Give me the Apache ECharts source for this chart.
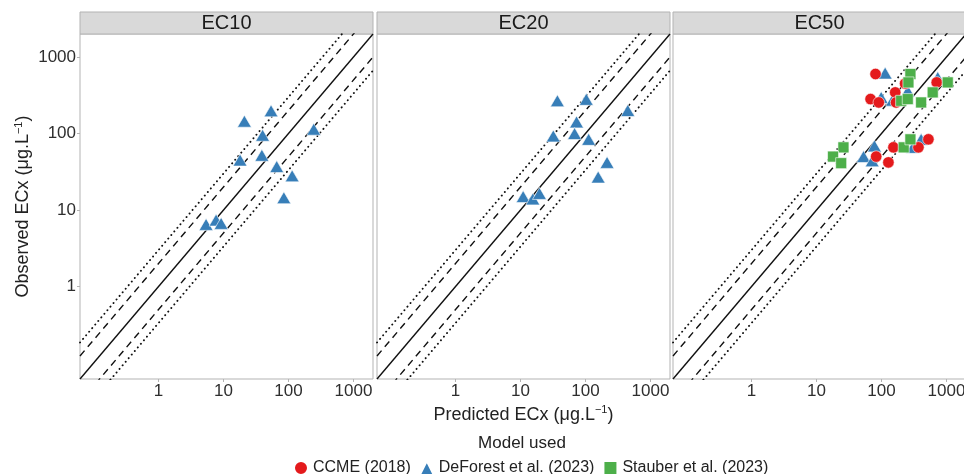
<!DOCTYPE html>
<html>
<head>
<meta charset="utf-8">
<script src="https://cdn.jsdelivr.net/npm/echarts@6/dist/echarts.min.js"></script>
<style>
html, body { margin: 0; padding: 0; background: #fff; }
#chart { width: 964px; height: 474px; }
</style>
</head>
<body>
<div id="chart"></div>
<script>
// facets and axis ticks
var panels = ['EC10', 'EC20', 'EC50'];
var tickValues = [1, 10, 100, 1000];
var axisMin = 0.062, axisMax = 2000;

// EC10 - DeForest et al. (2023)
var ec10Pred = [21, 54, 40, 245, 18, 39, 66, 114, 85, 5.4, 7.7, 9.2];
var ec10Obs  = [145, 198, 95, 114, 45, 52, 37, 28, 14.5, 6.5, 7.4, 6.7];

// EC20 - DeForest et al. (2023)
var ec20Pred = [37, 103, 448, 73, 68, 32, 112, 215, 157, 11, 15.5, 19.6];
var ec20Obs  = [268, 280, 200, 142, 100, 93, 84, 42, 27, 15, 14, 16.5];

// EC50 - three models
var ec50CcmePred = [81, 231, 709, 163, 68, 91, 168, 153, 371, 528, 83, 128];
var ec50CcmeObs  = [600, 450, 466, 345, 282, 255, 255, 66, 66, 84, 50, 42];
var ec50DefPred  = [114, 254, 99, 735, 148, 78, 53, 72, 408, 303];
var ec50DefObs   = [617, 360, 297, 540, 273, 69, 50, 44, 84, 66];
var ec50StaPred  = [279, 260, 1047, 615, 201, 254, 408, 26, 18, 24, 220, 279];
var ec50StaObs   = [600, 466, 466, 345, 268, 282, 255, 66, 50, 41, 66, 84];

// reference lines: 1:1, x2 / x0.5, x3 / x1/3
var lineFactors = [1, 2, 0.5, 3, 1 / 3];
var lineTypes   = ['solid', [7, 5], [7, 5], [0.1, 4.6], [0.1, 4.6]];
var lineWidths  = [1.4, 1.4, 1.4, 1.9, 1.9];

var models = ['CCME (2018)', 'DeForest et al. (2023)', 'Stauber et al. (2023)'];
var modelColors = {'CCME (2018)': '#E41A1C', 'DeForest et al. (2023)': '#377EB8', 'Stauber et al. (2023)': '#4DAF4A'};
var modelSymbols = {'CCME (2018)': 'circle', 'DeForest et al. (2023)': 'triangle', 'Stauber et al. (2023)': 'rect'};
var modelSizes = {'CCME (2018)': 11.5, 'DeForest et al. (2023)': [14, 12], 'Stauber et al. (2023)': 11};

var panelLeft = [80, 377, 673];
var panelWidth = 293, panelTop = 34, panelHeight = 345;

function pairs(xs, ys) {
    return xs.map(function (x, i) { return [x, ys[i]]; });
}

var panelData = [
    [['DeForest et al. (2023)', pairs(ec10Pred, ec10Obs)]],
    [['DeForest et al. (2023)', pairs(ec20Pred, ec20Obs)]],
    [['DeForest et al. (2023)', pairs(ec50DefPred, ec50DefObs)],
     ['CCME (2018)', pairs(ec50CcmePred, ec50CcmeObs)],
     ['Stauber et al. (2023)', pairs(ec50StaPred, ec50StaObs)]]
];

var unitRich = {
    t: {fontSize: 18, color: '#222', fontFamily: 'Liberation Sans'},
    s: {fontSize: 11, color: '#222', fontFamily: 'Liberation Sans', verticalAlign: 'top', padding: [0, 0, 9, 0]}
};

function labelFmt(v) { return String(Math.round(v)); }

var grids = [], xAxes = [], yAxes = [], series = [], graphics = [];

panels.forEach(function (p, i) {
    grids.push({
        left: panelLeft[i], top: panelTop, width: panelWidth, height: panelHeight,
        outerBoundsMode: 'none', containLabel: false,
        show: true, borderColor: '#B3B3B3', borderWidth: 1, backgroundColor: '#fff'
    });
    xAxes.push({
        type: 'log', logBase: 10, gridIndex: i, min: axisMin, max: axisMax,
        name: i === 1 ? '{t|Predicted ECx (μg.L}{s|−1}{t|)}' : '',
        nameLocation: 'middle', nameGap: 22,
        nameTextStyle: {rich: unitRich},
        axisLine: {show: false},
        splitLine: {show: false},
        axisTick: {show: true, customValues: tickValues, length: 3, lineStyle: {color: '#B3B3B3'}},
        axisLabel: {customValues: tickValues, formatter: labelFmt, fontSize: 17, color: '#2e2e2e',
                    fontFamily: 'Liberation Sans', margin: 4}
    });
    yAxes.push({
        type: 'log', logBase: 10, gridIndex: i, min: axisMin, max: axisMax,
        name: i === 0 ? '{t|Observed ECx (μg.L}{s|−1}{t|)}' : '',
        nameLocation: 'middle', nameGap: 47,
        nameTextStyle: {rich: unitRich},
        axisLine: {show: false},
        splitLine: {show: false},
        axisTick: {show: i === 0, customValues: tickValues, length: 3, lineStyle: {color: '#B3B3B3'}},
        axisLabel: {show: i === 0, customValues: tickValues, formatter: labelFmt, fontSize: 17, color: '#2e2e2e',
                    fontFamily: 'Liberation Sans', margin: 4}
    });

    lineFactors.forEach(function (f, k) {
        series.push({
            type: 'line', xAxisIndex: i, yAxisIndex: i, silent: true, symbol: 'none',
            clip: true, animation: false,
            lineStyle: {color: '#111', width: lineWidths[k], type: lineTypes[k], cap: k > 2 ? 'round' : 'butt'},
            data: [[axisMin, axisMin * f], [axisMax, axisMax * f]],
            z: 2
        });
    });

    panelData[i].forEach(function (d) {
        series.push({
            type: 'scatter', name: d[0], xAxisIndex: i, yAxisIndex: i,
            symbol: modelSymbols[d[0]], symbolSize: modelSizes[d[0]],
            itemStyle: {color: modelColors[d[0]], opacity: 1, borderColor: '#fff', borderWidth: 0.6},
            data: d[1], z: 3
        });
    });

    graphics.push({
        type: 'rect', shape: {x: panelLeft[i], y: 12, width: panelWidth, height: 22},
        style: {fill: '#D9D9D9', stroke: '#B3B3B3', lineWidth: 1}
    });
    graphics.push({
        type: 'text', x: panelLeft[i] + panelWidth / 2, y: 23,
        style: {text: p, fontSize: 20, fill: '#1a1a1a', fontFamily: 'Liberation Sans',
                align: 'center', verticalAlign: 'middle'}
    });
});

graphics.push({
    type: 'text', x: 522, y: 443,
    style: {text: 'Model used', fontSize: 17, fill: '#222', fontFamily: 'Liberation Sans',
            align: 'center', verticalAlign: 'middle'}
});

var chart = echarts.init(document.getElementById('chart'));
chart.setOption({
    animation: false,
    backgroundColor: '#fff',
    grid: grids,
    xAxis: xAxes,
    yAxis: yAxes,
    graphic: graphics,
    legend: {
        data: models.map(function (m) { return {name: m, icon: modelSymbols[m]}; }),
        left: 288, top: 455,
        itemWidth: 14, itemHeight: 14, itemGap: 8,
        textStyle: {fontSize: 16, color: '#222', fontFamily: 'Liberation Sans'}
    },
    series: series
});
</script>
</body>
</html>
